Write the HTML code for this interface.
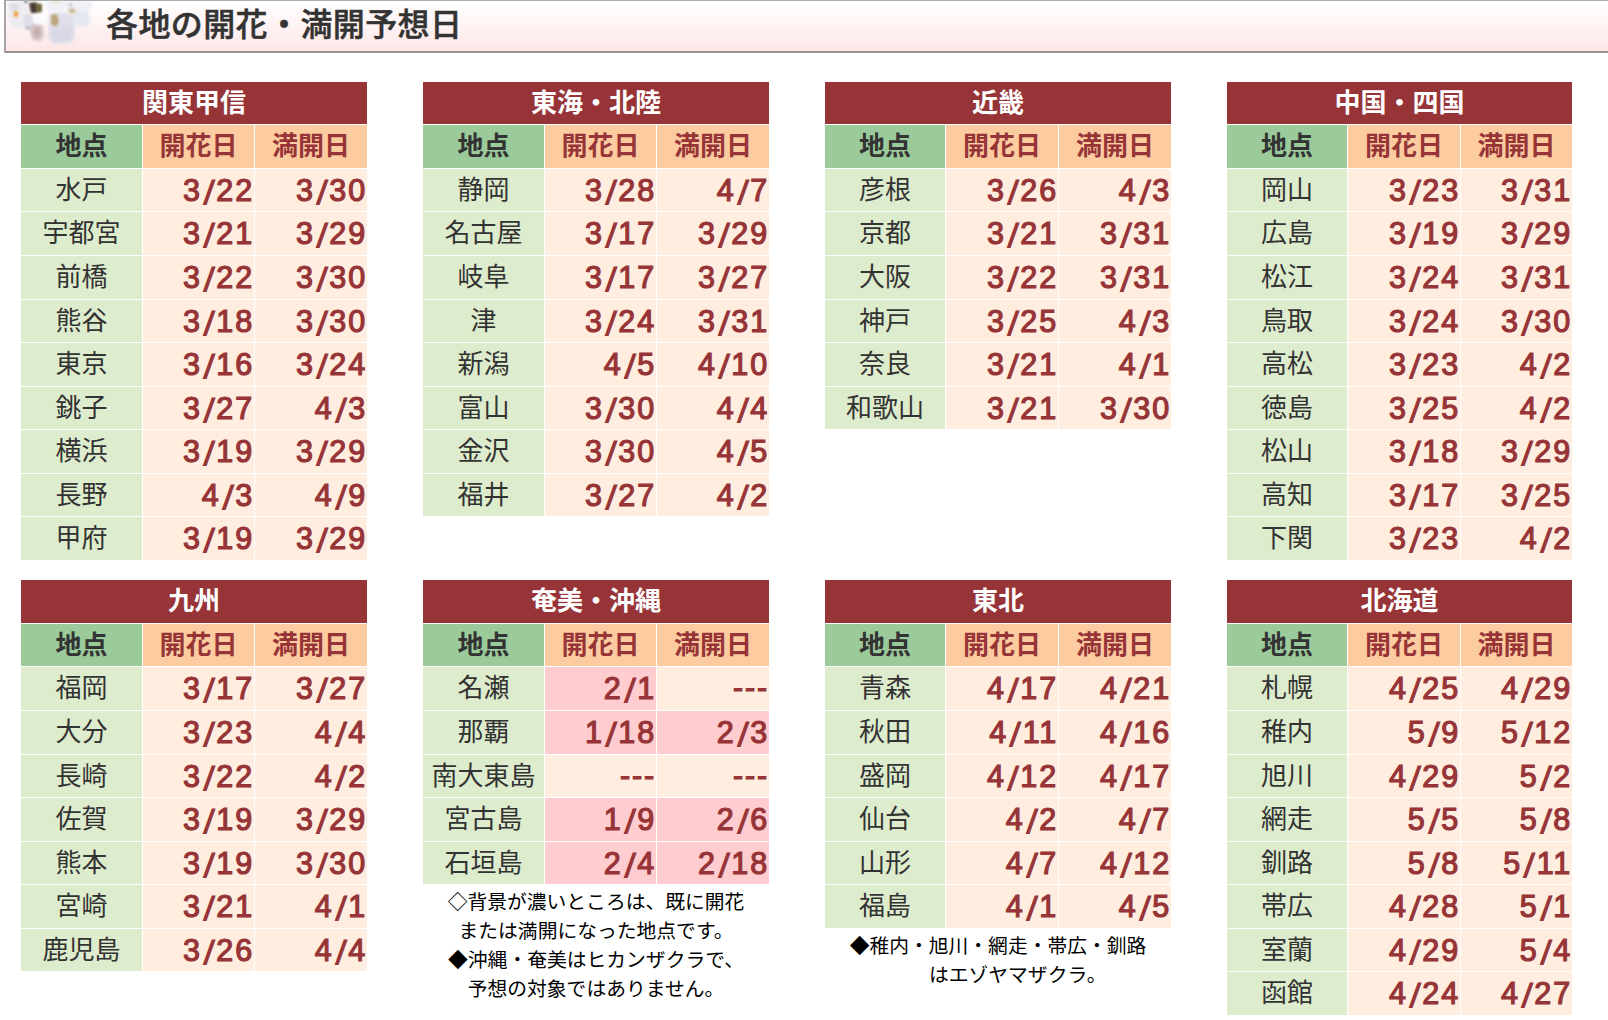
<!DOCTYPE html>
<html lang="ja">
<head>
<meta charset="utf-8">
<title>各地の開花・満開予想日</title>
<style>
html,body{margin:0;padding:0;background:#fff;}
body{width:1608px;height:1020px;overflow:hidden;position:relative;font-family:"Liberation Sans","Noto Sans CJK JP",sans-serif;color:#333;}
.banner{position:absolute;left:4px;top:0;width:1620px;height:50px;border-left:2px solid #a8a4a4;border-top:1px solid #a8aeb0;border-bottom:2px solid #9a9292;background:linear-gradient(#fff 0%,#fff5f5 40%,#fde6e6 100%);}
.banner svg{position:absolute;left:0;top:0;}
.title{position:absolute;left:100px;top:0;height:50px;line-height:49px;font-size:32px;font-weight:500;color:#333;-webkit-text-stroke:0.5px #333;white-space:nowrap;letter-spacing:0.4px;}
.t{position:absolute;width:346px;}
.r{display:flex;height:42.58px;margin-bottom:1px;line-height:42.58px;font-size:26px;white-space:nowrap;}
.r>div{height:42.58px;overflow:hidden;}
.cap{width:100%;background:#963437;color:#fff;font-weight:700;text-align:center;}
.a{width:121px;margin-right:1px;background:#deecce;text-align:center;color:#333;}
.d{width:111px;margin-right:1px;background:#ffeddf;text-align:right;color:#963437;font-size:30.5px;letter-spacing:1.85px;-webkit-text-stroke:1.2px #963437;}
.d:last-child{width:112px;margin-right:0;}
.c .a{background:#9bca9b;font-weight:700;}
.c .d{background:#fdcba0;font-weight:700;text-align:center;font-size:26px;letter-spacing:0;-webkit-text-stroke:0;}
.d.p{background:#ffcdd0;}
.note{font-size:19.8px;line-height:29px;text-align:center;color:#000;margin-top:4px;white-space:nowrap;}
.d i{display:inline-block;font-style:normal;font-size:33px;position:relative;top:3px;padding:0 1px 0 2.5px;line-height:1px;transform:skewX(-5deg);}
.k3 .a{width:120px;}
.k3 .d{width:112px;}
.k4{width:345px;}
.k4 .a{width:120px;}
.k4 .d{width:112px;}
.k4 .d:last-child{width:111px;}
.d.n{line-height:41px;}
</style>
</head>
<body>
<div class="banner">
<svg width="110" height="50" viewBox="2 1 110 50">
<defs><filter id="b1" x="-30%" y="-30%" width="160%" height="160%"><feGaussianBlur stdDeviation="1.4"/></filter><filter id="b2" x="-50%" y="-50%" width="200%" height="200%"><feGaussianBlur stdDeviation="1.2"/></filter></defs>
<g filter="url(#b1)">
<path d="M3 2 L22 1 L25 12 L23 24 L18 29 L9 28 L4 20 Z" fill="#ececf2"/>
<path d="M5 3 L14 2 L16 9 L8 12 Z" fill="#dedee8"/>
<path d="M20 15 L31 14 L33 26 L27 31 L20 27 Z" fill="#dddce7"/>
<path d="M27 25 L38 24 L40 34 L37 41 L29 40 L26 32 Z" fill="#d2c0c4"/>
<path d="M28 13 L41 12 L43 21 L37 25 L29 23 Z" fill="#fcfcfe"/>
<path d="M45 14 L60 12 L70 16 L71 36 L67 43 L50 44 L44 38 Z" fill="#dfdfea"/>
<path d="M47 30 L68 28 L68 41 L50 43 Z" fill="#d8d8e5"/>
<path d="M40 1 L88 1 L89 8 L78 12 L60 11 L44 12 Z" fill="#f0f0f6"/>
<path d="M71 11 L84 10 L87 20 L83 27 L73 26 L69 19 Z" fill="#e4e8f1"/>
<ellipse cx="33" cy="32" rx="2.5" ry="5" fill="#c4a9a9"/>
</g>
<g filter="url(#b2)">
<path d="M25 3 L32 2 L33 13 L27 13 Z" fill="#4a3a35"/>
<path d="M32 3 L38 4 L38 12 L32 13 Z" fill="#70663c"/>
<ellipse cx="22" cy="1.5" rx="2" ry="1.3" fill="#6a6561"/>
<ellipse cx="23.5" cy="28" rx="2.6" ry="1" fill="#a9a7b0"/>
<ellipse cx="12" cy="14" rx="2.3" ry="3.2" fill="#eca84c"/>
<path d="M47 15 L53 14 L55 22 L52 27 L47 24 Z" fill="#c0a47c"/>
<ellipse cx="52" cy="2.5" rx="6" ry="1.2" fill="#e6e2bf"/>
<ellipse cx="68" cy="11" rx="3.6" ry="2.8" fill="#d0bca0"/>
<ellipse cx="66.5" cy="5" rx="1" ry="1.8" fill="#aaa5a8"/>
</g>
</svg>
<div class="title">各地の開花・満開予想日</div>
</div>
<div class="t" style="left:21px;top:81.7px">
<div class="r h"><div class="cap">関東甲信</div></div>
<div class="r c"><div class="a">地点</div><div class="d">開花日</div><div class="d">満開日</div></div>
<div class="r"><div class="a">水戸</div><div class="d">3<i>/</i>22</div><div class="d">3<i>/</i>30</div></div>
<div class="r"><div class="a">宇都宮</div><div class="d">3<i>/</i>21</div><div class="d">3<i>/</i>29</div></div>
<div class="r"><div class="a">前橋</div><div class="d">3<i>/</i>22</div><div class="d">3<i>/</i>30</div></div>
<div class="r"><div class="a">熊谷</div><div class="d">3<i>/</i>18</div><div class="d">3<i>/</i>30</div></div>
<div class="r"><div class="a">東京</div><div class="d">3<i>/</i>16</div><div class="d">3<i>/</i>24</div></div>
<div class="r"><div class="a">銚子</div><div class="d">3<i>/</i>27</div><div class="d">4<i>/</i>3</div></div>
<div class="r"><div class="a">横浜</div><div class="d">3<i>/</i>19</div><div class="d">3<i>/</i>29</div></div>
<div class="r"><div class="a">長野</div><div class="d">4<i>/</i>3</div><div class="d">4<i>/</i>9</div></div>
<div class="r"><div class="a">甲府</div><div class="d">3<i>/</i>19</div><div class="d">3<i>/</i>29</div></div>
</div>
<div class="t" style="left:423px;top:81.7px">
<div class="r h"><div class="cap">東海・北陸</div></div>
<div class="r c"><div class="a">地点</div><div class="d">開花日</div><div class="d">満開日</div></div>
<div class="r"><div class="a">静岡</div><div class="d">3<i>/</i>28</div><div class="d">4<i>/</i>7</div></div>
<div class="r"><div class="a">名古屋</div><div class="d">3<i>/</i>17</div><div class="d">3<i>/</i>29</div></div>
<div class="r"><div class="a">岐阜</div><div class="d">3<i>/</i>17</div><div class="d">3<i>/</i>27</div></div>
<div class="r"><div class="a">津</div><div class="d">3<i>/</i>24</div><div class="d">3<i>/</i>31</div></div>
<div class="r"><div class="a">新潟</div><div class="d">4<i>/</i>5</div><div class="d">4<i>/</i>10</div></div>
<div class="r"><div class="a">富山</div><div class="d">3<i>/</i>30</div><div class="d">4<i>/</i>4</div></div>
<div class="r"><div class="a">金沢</div><div class="d">3<i>/</i>30</div><div class="d">4<i>/</i>5</div></div>
<div class="r"><div class="a">福井</div><div class="d">3<i>/</i>27</div><div class="d">4<i>/</i>2</div></div>
</div>
<div class="t k3" style="left:825px;top:81.7px">
<div class="r h"><div class="cap">近畿</div></div>
<div class="r c"><div class="a">地点</div><div class="d">開花日</div><div class="d">満開日</div></div>
<div class="r"><div class="a">彦根</div><div class="d">3<i>/</i>26</div><div class="d">4<i>/</i>3</div></div>
<div class="r"><div class="a">京都</div><div class="d">3<i>/</i>21</div><div class="d">3<i>/</i>31</div></div>
<div class="r"><div class="a">大阪</div><div class="d">3<i>/</i>22</div><div class="d">3<i>/</i>31</div></div>
<div class="r"><div class="a">神戸</div><div class="d">3<i>/</i>25</div><div class="d">4<i>/</i>3</div></div>
<div class="r"><div class="a">奈良</div><div class="d">3<i>/</i>21</div><div class="d">4<i>/</i>1</div></div>
<div class="r"><div class="a">和歌山</div><div class="d">3<i>/</i>21</div><div class="d">3<i>/</i>30</div></div>
</div>
<div class="t k4" style="left:1227px;top:81.7px">
<div class="r h"><div class="cap">中国・四国</div></div>
<div class="r c"><div class="a">地点</div><div class="d">開花日</div><div class="d">満開日</div></div>
<div class="r"><div class="a">岡山</div><div class="d">3<i>/</i>23</div><div class="d">3<i>/</i>31</div></div>
<div class="r"><div class="a">広島</div><div class="d">3<i>/</i>19</div><div class="d">3<i>/</i>29</div></div>
<div class="r"><div class="a">松江</div><div class="d">3<i>/</i>24</div><div class="d">3<i>/</i>31</div></div>
<div class="r"><div class="a">鳥取</div><div class="d">3<i>/</i>24</div><div class="d">3<i>/</i>30</div></div>
<div class="r"><div class="a">高松</div><div class="d">3<i>/</i>23</div><div class="d">4<i>/</i>2</div></div>
<div class="r"><div class="a">徳島</div><div class="d">3<i>/</i>25</div><div class="d">4<i>/</i>2</div></div>
<div class="r"><div class="a">松山</div><div class="d">3<i>/</i>18</div><div class="d">3<i>/</i>29</div></div>
<div class="r"><div class="a">高知</div><div class="d">3<i>/</i>17</div><div class="d">3<i>/</i>25</div></div>
<div class="r"><div class="a">下関</div><div class="d">3<i>/</i>23</div><div class="d">4<i>/</i>2</div></div>
</div>
<div class="t" style="left:21px;top:580.2px">
<div class="r h"><div class="cap">九州</div></div>
<div class="r c"><div class="a">地点</div><div class="d">開花日</div><div class="d">満開日</div></div>
<div class="r"><div class="a">福岡</div><div class="d">3<i>/</i>17</div><div class="d">3<i>/</i>27</div></div>
<div class="r"><div class="a">大分</div><div class="d">3<i>/</i>23</div><div class="d">4<i>/</i>4</div></div>
<div class="r"><div class="a">長崎</div><div class="d">3<i>/</i>22</div><div class="d">4<i>/</i>2</div></div>
<div class="r"><div class="a">佐賀</div><div class="d">3<i>/</i>19</div><div class="d">3<i>/</i>29</div></div>
<div class="r"><div class="a">熊本</div><div class="d">3<i>/</i>19</div><div class="d">3<i>/</i>30</div></div>
<div class="r"><div class="a">宮崎</div><div class="d">3<i>/</i>21</div><div class="d">4<i>/</i>1</div></div>
<div class="r"><div class="a">鹿児島</div><div class="d">3<i>/</i>26</div><div class="d">4<i>/</i>4</div></div>
</div>
<div class="t" style="left:423px;top:580.2px">
<div class="r h"><div class="cap">奄美・沖縄</div></div>
<div class="r c"><div class="a">地点</div><div class="d">開花日</div><div class="d">満開日</div></div>
<div class="r"><div class="a">名瀬</div><div class="d p">2<i>/</i>1</div><div class="d n">---</div></div>
<div class="r"><div class="a">那覇</div><div class="d p">1<i>/</i>18</div><div class="d p">2<i>/</i>3</div></div>
<div class="r"><div class="a">南大東島</div><div class="d n">---</div><div class="d n">---</div></div>
<div class="r"><div class="a">宮古島</div><div class="d p">1<i>/</i>9</div><div class="d p">2<i>/</i>6</div></div>
<div class="r"><div class="a">石垣島</div><div class="d p">2<i>/</i>4</div><div class="d p">2<i>/</i>18</div></div>
<div class="note">◇背景が濃いところは、既に開花<br>または満開になった地点です。<br>◆沖縄・奄美はヒカンザクラで、<br>予想の対象ではありません。</div>
</div>
<div class="t k3" style="left:825px;top:580.2px">
<div class="r h"><div class="cap">東北</div></div>
<div class="r c"><div class="a">地点</div><div class="d">開花日</div><div class="d">満開日</div></div>
<div class="r"><div class="a">青森</div><div class="d">4<i>/</i>17</div><div class="d">4<i>/</i>21</div></div>
<div class="r"><div class="a">秋田</div><div class="d">4<i>/</i>11</div><div class="d">4<i>/</i>16</div></div>
<div class="r"><div class="a">盛岡</div><div class="d">4<i>/</i>12</div><div class="d">4<i>/</i>17</div></div>
<div class="r"><div class="a">仙台</div><div class="d">4<i>/</i>2</div><div class="d">4<i>/</i>7</div></div>
<div class="r"><div class="a">山形</div><div class="d">4<i>/</i>7</div><div class="d">4<i>/</i>12</div></div>
<div class="r"><div class="a">福島</div><div class="d">4<i>/</i>1</div><div class="d">4<i>/</i>5</div></div>
<div class="note">◆稚内・旭川・網走・帯広・釧路<br>　　はエゾヤマザクラ。</div>
</div>
<div class="t k4" style="left:1227px;top:580.2px">
<div class="r h"><div class="cap">北海道</div></div>
<div class="r c"><div class="a">地点</div><div class="d">開花日</div><div class="d">満開日</div></div>
<div class="r"><div class="a">札幌</div><div class="d">4<i>/</i>25</div><div class="d">4<i>/</i>29</div></div>
<div class="r"><div class="a">稚内</div><div class="d">5<i>/</i>9</div><div class="d">5<i>/</i>12</div></div>
<div class="r"><div class="a">旭川</div><div class="d">4<i>/</i>29</div><div class="d">5<i>/</i>2</div></div>
<div class="r"><div class="a">網走</div><div class="d">5<i>/</i>5</div><div class="d">5<i>/</i>8</div></div>
<div class="r"><div class="a">釧路</div><div class="d">5<i>/</i>8</div><div class="d">5<i>/</i>11</div></div>
<div class="r"><div class="a">帯広</div><div class="d">4<i>/</i>28</div><div class="d">5<i>/</i>1</div></div>
<div class="r"><div class="a">室蘭</div><div class="d">4<i>/</i>29</div><div class="d">5<i>/</i>4</div></div>
<div class="r"><div class="a">函館</div><div class="d">4<i>/</i>24</div><div class="d">4<i>/</i>27</div></div>
</div>
</body>
</html>
